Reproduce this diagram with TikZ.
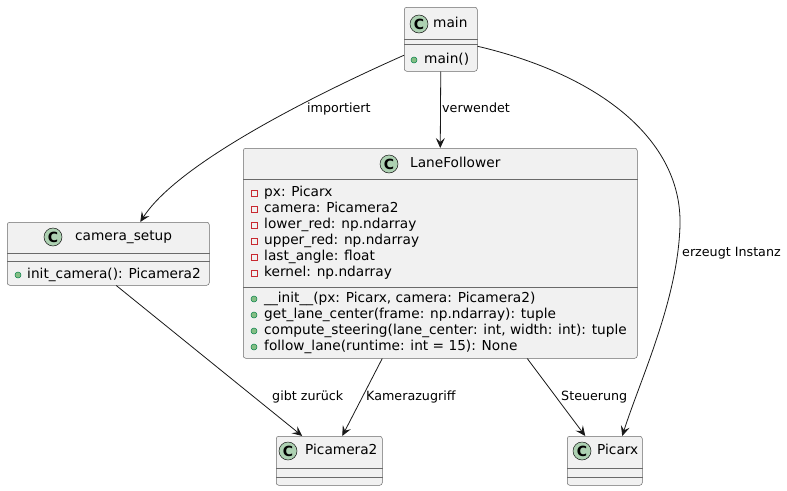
\documentclass[tikz,border=0pt]{standalone}
\usepackage{fontspec}
\setmainfont{DejaVu Sans}
\usetikzlibrary{arrows.meta}
\definecolor{boxfill}{HTML}{F1F1F1}
\definecolor{linegray}{HTML}{181818}
\definecolor{boxline}{HTML}{6A6A6A}
\definecolor{iconfill}{HTML}{ADD1B2}
\definecolor{privred}{HTML}{C82930}
\definecolor{pubfill}{HTML}{84BE84}
\definecolor{pubdraw}{HTML}{038048}

\begin{document}
\begin{tikzpicture}[x=1pt,y=-1pt,
    classbox/.style={draw=boxline,fill=boxfill,line width=0.5pt,rounded corners=2.5pt,anchor=north west,inner sep=0},
    icon/.style={circle,draw=linegray,fill=iconfill,line width=0.5pt,minimum size=18pt,inner sep=0,font=\fontsize{14}{14}\selectfont\bfseries},
    cname/.style={anchor=west,inner sep=0,text height=10pt,text depth=3pt,font=\fontsize{13.7}{16}\selectfont},
    member/.style={cname},
    priv/.style={rectangle,draw=privred,line width=0.6pt,minimum size=6pt,inner sep=0},
    pub/.style={circle,draw=pubdraw,fill=pubfill,line width=0.5pt,minimum size=6pt,inner sep=0},
    lbl/.style={anchor=west,inner sep=0,text height=9.5pt,text depth=3pt,font=\fontsize{12.7}{15}\selectfont},
    dep/.style={-{Stealth[length=10pt,width=9pt,inset=4pt]},draw=linegray,line width=0.8pt},
    sep/.style={draw=boxline,line width=0.5pt}]
    \useasboundingbox (0,0) rectangle (787,490);

    % main
    \node[classbox,minimum width=73pt,minimum height=64pt] (main) at (404,7) {};
    \draw[sep] (main.west |- 0,39) -- (main.east |- 0,39);
    \draw[sep] (main.west |- 0,44) -- (main.east |- 0,44);
    \node[icon] (mainicon) at (419,24) {C};
    \node[cname] (mainname) at (433,24) {main};
    \node[pub] (mainpub) at (414,60) {};
    \node[member] (mainm1) at (424,60) {main()};

    % camera_setup
    \node[classbox,minimum width=202pt,minimum height=63pt] (cs) at (7,222) {};
    \draw[sep] (cs.west |- 0,253) -- (cs.east |- 0,253);
    \draw[sep] (cs.west |- 0,261) -- (cs.east |- 0,261);
    \node[icon] (csicon) at (53,237) {C};
    \node[cname] (csname) at (75,237) {camera\_setup};
    \node[pub] (cspub) at (18,275) {};
    \node[member] (csm1) at (27,275) {init\_camera(): Picamera2};

    % LaneFollower
    \node[classbox,minimum width=394pt,minimum height=210pt] (lf) at (243,148) {};
    \draw[sep] (lf.west |- 0,179) -- (lf.east |- 0,179);
    \draw[sep] (lf.west |- 0,287) -- (lf.east |- 0,287);
    \node[icon] (lficon) at (389,164) {C};
    \node[cname] (lfname) at (410,164) {LaneFollower};
    \foreach \t [count=\i] in {px: Picarx, camera: Picamera2, lower\_red: np.ndarray,
        upper\_red: np.ndarray, last\_angle: float, kernel: np.ndarray}{
        \node[priv] (lfp\i) at (254,177+16*\i) {};
        \node[member] (lfa\i) at (264,177+16*\i) {\t};
    }
    \foreach \t [count=\i] in {{\_\_init\_\_(px: Picarx, camera: Picamera2)},
        {get\_lane\_center(frame: np.ndarray): tuple},
        {compute\_steering(lane\_center: int, width: int): tuple},
        {follow\_lane(runtime: int = 15): None}}{
        \node[pub] (lfq\i) at (254,283+16*\i) {};
        \node[member] (lfm\i) at (264,283+16*\i) {\t};
    }

    % Picamera2
    \node[classbox,minimum width=106pt,minimum height=49pt] (pc) at (276,436) {};
    \draw[sep] (pc.west |- 0,468) -- (pc.east |- 0,468);
    \draw[sep] (pc.west |- 0,477) -- (pc.east |- 0,477);
    \node[icon] (pcicon) at (288,451) {C};
    \node[cname] (pcname) at (305,451) {Picamera2};

    % Picarx
    \node[classbox,minimum width=75pt,minimum height=49pt] (px) at (567,436) {};
    \draw[sep] (px.west |- 0,468) -- (px.east |- 0,468);
    \draw[sep] (px.west |- 0,477) -- (px.east |- 0,477);
    \node[icon] (pxicon) at (582,451) {C};
    \node[cname] (pxname) at (597,451) {Picarx};

    % connectors
    \draw[dep] ([yshift=-16pt]main.west) .. controls (330,88) and (180,160) .. ([xshift=32pt]cs.north);
    \draw[dep] (main.south) -- (lf.north);
    \draw[dep] ([yshift=-7pt]main.east) .. controls (600,75) and (682,140) .. (680,225)
        .. controls (678,300) and (640,380) .. ([xshift=17.5pt]px.north);
    \draw[dep] ([xshift=8pt]cs.south) -- ([xshift=-27pt]pc.north);
    \draw[dep] ([xshift=-58pt]lf.south) -- ([xshift=13pt]pc.north);
    \draw[dep] ([xshift=87pt]lf.south) -- ([xshift=-19.5pt]px.north);

    \node[lbl] (limp) at (307,109) {importiert};
    \node[lbl] (lver) at (442,109) {verwendet};
    \node[lbl] (lerz) at (682,253) {erzeugt Instanz};
    \node[lbl] (lgib) at (272,397) {gibt zurück};
    \node[lbl] (lkam) at (366,397) {Kamerazugriff};
    \node[lbl] (lste) at (561,397) {Steuerung};
\end{tikzpicture}
\end{document}
